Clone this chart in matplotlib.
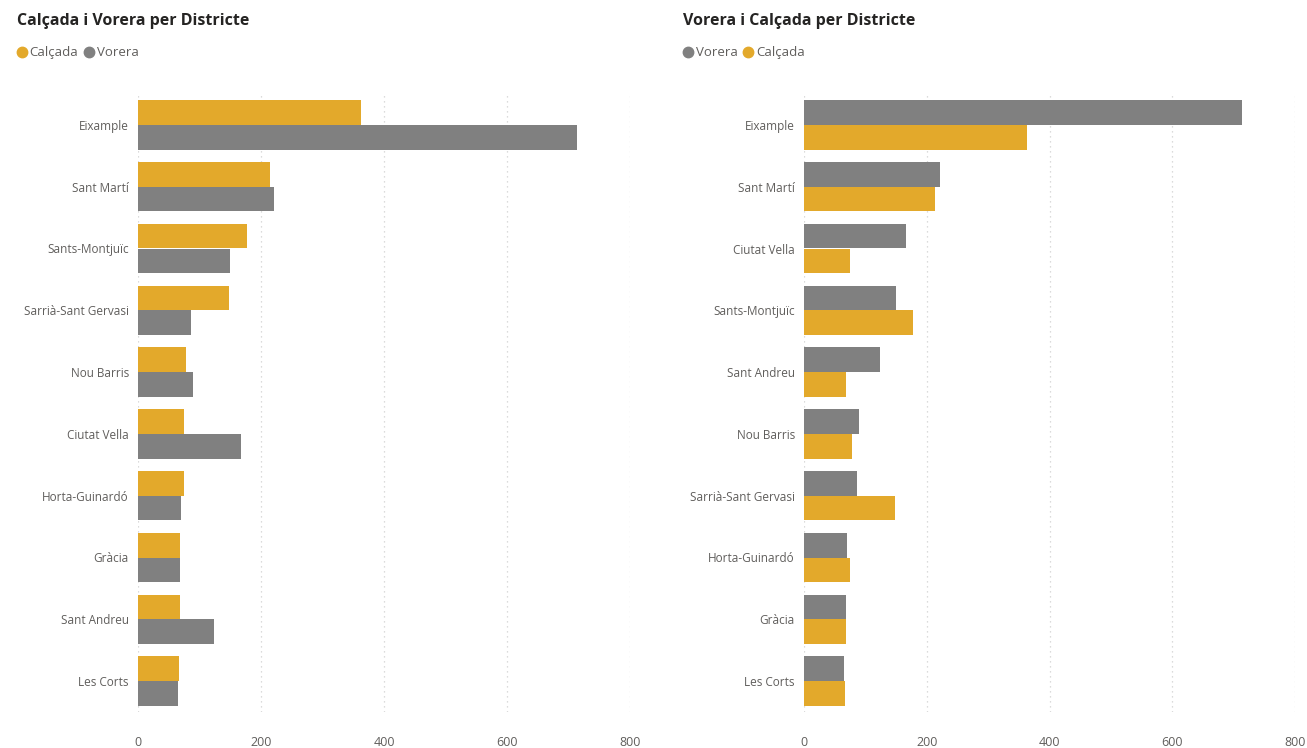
import matplotlib
matplotlib.use("Agg")
import matplotlib.pyplot as plt
from matplotlib.lines import Line2D
import numpy as np

plt.rcParams['font.family'] = ['Open Sans', 'DejaVu Sans']

# Left panel (sorted by Calçada)
left_districts = ["Eixample", "Sant Martí", "Sants-Montjuïc", "Sarrià-Sant Gervasi", "Nou Barris",
                  "Ciutat Vella", "Horta-Guinardó", "Gràcia", "Sant Andreu", "Les Corts"]
left_calcada = [363, 214, 178, 148, 78, 75, 75, 69, 69, 67]
left_vorera = [714, 221, 150, 86, 90, 167, 70, 69, 124, 65]

# Right panel (sorted by Vorera)
right_districts = ["Eixample", "Sant Martí", "Ciutat Vella", "Sants-Montjuïc", "Sant Andreu",
                   "Nou Barris", "Sarrià-Sant Gervasi", "Horta-Guinardó", "Gràcia", "Les Corts"]
right_vorera = [714, 221, 167, 150, 124, 90, 86, 70, 69, 65]
right_calcada = [363, 214, 75, 178, 69, 78, 148, 75, 69, 67]

xticks = [0, 200, 400, 600, 800]

GOLD = "#E3A92B"
GRAY = "#808080"
TXT = "#605E5C"
TITLE = "#252423"

W, H = 1307, 748
fig = plt.figure(figsize=(W / 100, H / 100), dpi=100)

def px_axes(x0, x1, y0, y1):
    return fig.add_axes([x0 / W, 1 - y1 / H, (x1 - x0) / W, (y1 - y0) / H])

def draw(ax, cats, first, second, c1, c2):
    n = len(cats)
    y = np.arange(n)
    h = 0.4
    ax.barh(y - h / 2, first, height=h, color=c1, zorder=3)
    ax.barh(y + h / 2, second, height=h, color=c2, zorder=3)
    ax.set_ylim(n - 0.5, -0.5)
    ax.set_xlim(0, 800)
    ax.set_yticks(y)
    ax.set_yticklabels(cats, fontsize=8.5, color=TXT)
    ax.set_xticks(xticks)
    ax.set_xticklabels([str(t) for t in xticks], fontsize=9, color=TXT)
    ax.tick_params(axis='both', length=0)
    ax.tick_params(axis='x', pad=17)
    ax.tick_params(axis='y', pad=6.5)
    for s in ax.spines.values():
        s.set_visible(False)
    ax.grid(axis='x', color="#D0D0D0", linestyle=(0, (1, 3)), linewidth=0.9, zorder=0)
    ax.set_axisbelow(True)

axL = px_axes(138, 630, 94, 712)
draw(axL, left_districts, left_calcada, left_vorera, GOLD, GRAY)
axR = px_axes(804, 1295, 94, 712)
draw(axR, right_districts, right_vorera, right_calcada, GRAY, GOLD)

fig.text(17 / W, 1 - 21 / H, "Calçada i Vorera per Districte", fontsize=11.5, fontweight='bold',
         color=TITLE, va='center', ha='left')
fig.text(683 / W, 1 - 21 / H, "Vorera i Calçada per Districte", fontsize=11.5, fontweight='bold',
         color=TITLE, va='center', ha='left')

renderer = fig.canvas.get_renderer()

def legend(x, labels, colors, y=52):
    for lab, c in zip(labels, colors):
        fig.add_artist(Line2D([(x + 5) / W], [1 - y / H], marker='o', markersize=7.5,
                              color=c, linestyle='none', transform=fig.transFigure))
        t = fig.text((x + 12.5) / W, 1 - (y + 4) / H, lab, fontsize=9.5, color=TXT,
                     ha='left', va='baseline')
        bb = t.get_window_extent(renderer)
        x = bb.x1 + 6

legend(17, ["Calçada", "Vorera"], [GOLD, GRAY])
legend(683, ["Vorera", "Calçada"], [GRAY, GOLD])

fig.savefig("out.png", dpi=100, facecolor='white')
